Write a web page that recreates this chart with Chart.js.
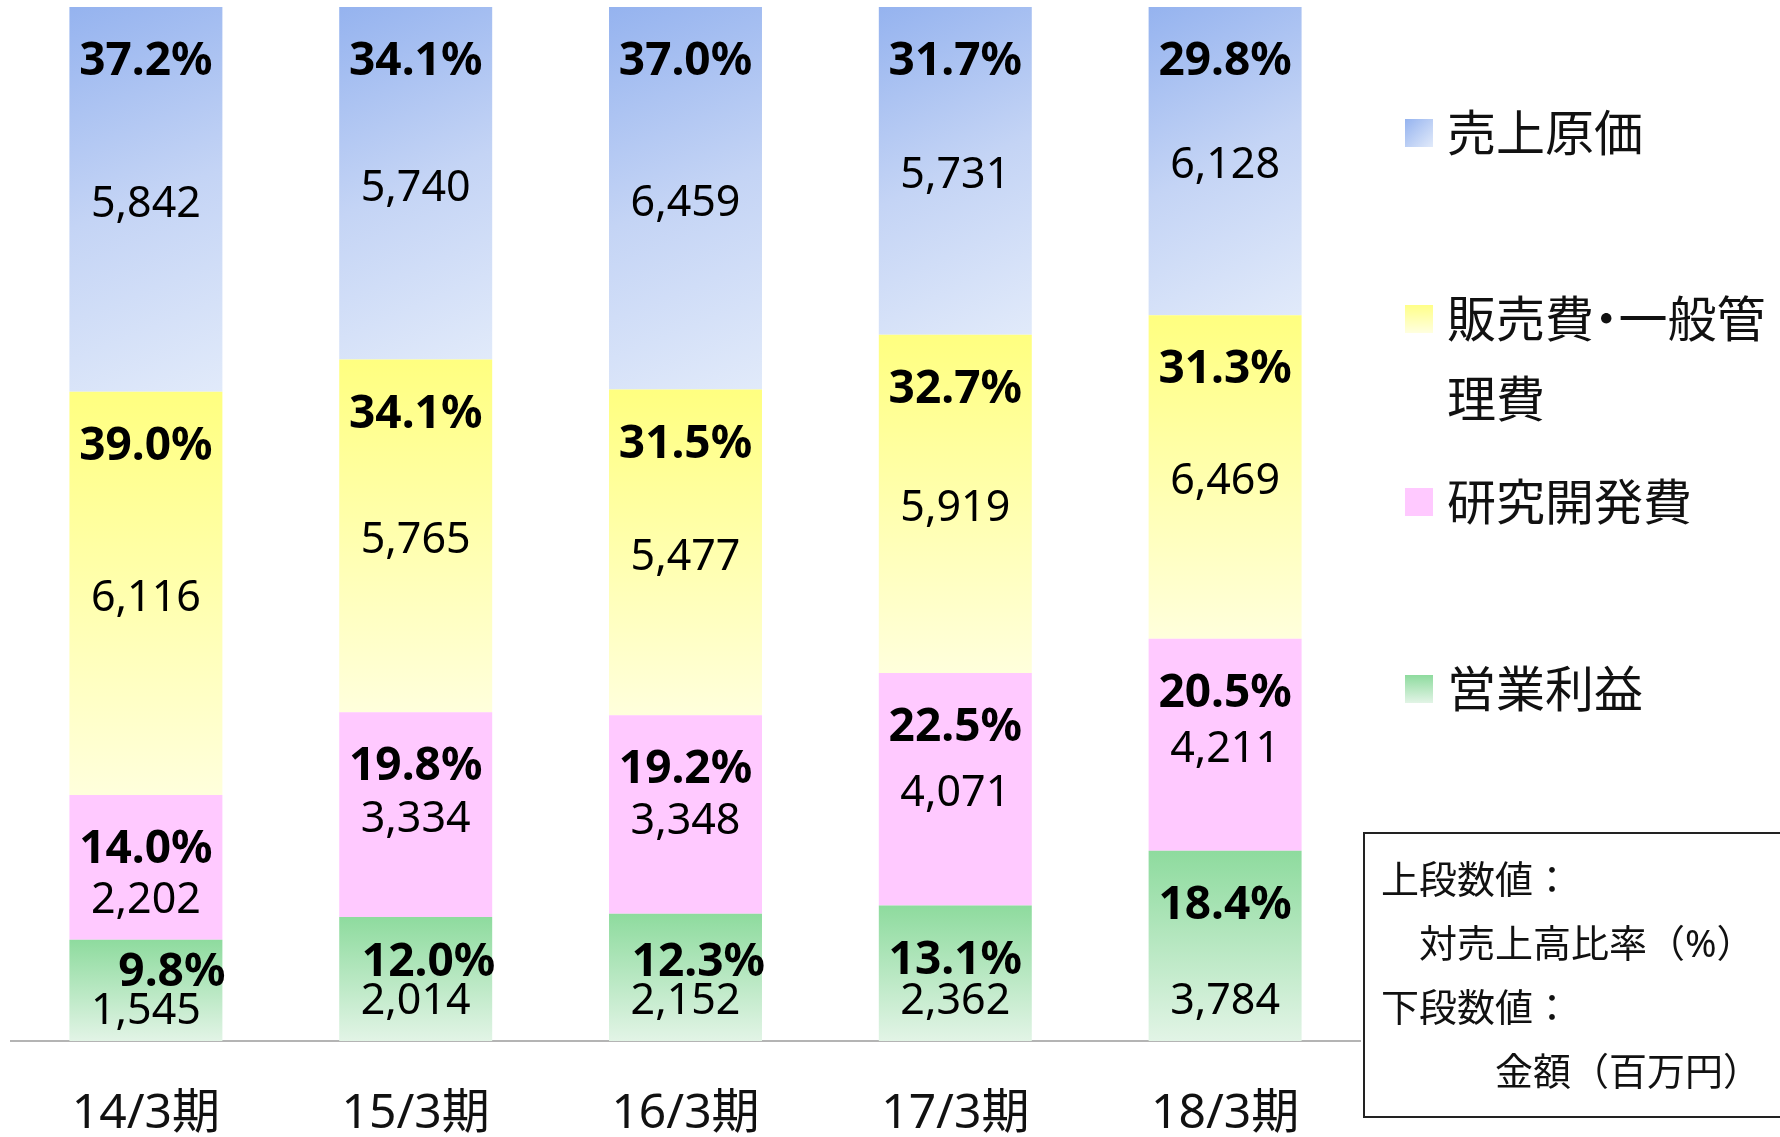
<!DOCTYPE html>
<html>
<head>
<meta charset="utf-8">
<script src="https://cdn.jsdelivr.net/npm/chart.js@4.4.1/dist/chart.umd.min.js"></script>
<style>
  html, body { margin: 0; padding: 0; background: #fff; overflow: hidden; }
  #wrap { position: relative; width: 1780px; height: 1137px; overflow: hidden; }
  #c { position: absolute; left: 0; top: 0; }
  .lg-item { position: absolute; left: 1405px; }
  .lg-sw { position: absolute; left: 0; width: 28px; height: 28px; }
  .lg-tx { position: absolute; left: 42px; width: 345px; font-family: 'Noto Sans CJK JP', sans-serif; font-size: 49px; line-height: 80px; color: #111; white-space: normal; font-feature-settings: "palt"; }
  #note { position: absolute; left: 1363px; top: 832px; width: 520px; height: 286px; border: 2px solid #222;
          font-family: 'Noto Sans', 'Noto Sans CJK JP', sans-serif; font-size: 38px; line-height: 64px; color: #111; padding: 12px 0 0 16px; box-sizing: border-box; white-space: pre; }
</style>
</head>
<body>
<div id="wrap">
  <canvas id="c" width="1780" height="1137"></canvas>
  <div id="legend"></div>
  <div id="note"></div>
</div>
<script>
// ---- data ----
const categories = ['14/3期', '15/3期', '16/3期', '17/3期', '18/3期'];
const seriesNames = ['営業利益', '研究開発費', '販売費・一般管理費', '売上原価'];
const opPct   = [9.8, 12.0, 12.3, 13.1, 18.4];
const opAmt   = [1545, 2014, 2152, 2362, 3784];
const rdPct   = [14.0, 19.8, 19.2, 22.5, 20.5];
const rdAmt   = [2202, 3334, 3348, 4071, 4211];
const sgaPct  = [39.0, 34.1, 31.5, 32.7, 31.3];
const sgaAmt  = [6116, 5765, 5477, 5919, 6469];
const costPct = [37.2, 34.1, 37.0, 31.7, 29.8];
const costAmt = [5842, 5740, 6459, 5731, 6128];
const noteLines = ['上段数値：', '　対売上高比率（%）', '下段数値：', '　　　金額（百万円）'];

// ---- styling ----
const FONT = "'Noto Sans', 'Noto Sans CJK JP', sans-serif";
const BAR_PCT = 0.567;

function segRect(ctx) {
  const chart = ctx.chart;
  const { chartArea, scales } = chart;
  if (!chartArea || ctx.type !== 'data') return null;
  const j = ctx.dataIndex, d = ctx.datasetIndex;
  let base = 0;
  for (let k = 0; k < d; k++) base += chart.data.datasets[k].data[j];
  const top = scales.y.getPixelForValue(base + chart.data.datasets[d].data[j]);
  const bot = scales.y.getPixelForValue(base);
  const xc = scales.x.getPixelForValue(j);
  const w = (scales.x.width / chart.data.labels.length) * BAR_PCT;
  return { x0: xc - w / 2, x1: xc + w / 2, top, bot };
}
function gradFill(stops, diagonal, fallback) {
  return (ctx) => {
    const r = segRect(ctx);
    if (!r) return fallback;
    const g = diagonal
      ? ctx.chart.ctx.createLinearGradient(r.x0, r.top, r.x1, r.bot)
      : ctx.chart.ctx.createLinearGradient(0, r.top, 0, r.bot);
    stops.forEach((c, i) => g.addColorStop(i / (stops.length - 1), c));
    return g;
  };
}

const datasets = [
  { label: seriesNames[0], data: opPct, amounts: opAmt,
    backgroundColor: gradFill(['#8edb9e', '#e2f4e6'], false, '#b8e6c2'),
    swatch: 'linear-gradient(#8edb9e, #e2f4e6)' },
  { label: seriesNames[1], data: rdPct, amounts: rdAmt,
    backgroundColor: '#ffc9ff', swatch: '#ffc9ff' },
  { label: seriesNames[2], data: sgaPct, amounts: sgaAmt,
    backgroundColor: gradFill(['#ffff80', '#ffffdc'], false, '#ffffb0'),
    swatch: 'linear-gradient(#ffff88, #ffffe0)' },
  { label: seriesNames[3], data: costPct, amounts: costAmt,
    backgroundColor: gradFill(['#95b3ef', '#c4d4f5', '#e1eafa'], true, '#c0d0f4'),
    swatch: 'linear-gradient(135deg, #95b3ef, #e1eafa)' }
];
datasets.forEach(ds => { ds.borderWidth = 0; ds.categoryPercentage = 1.0; ds.barPercentage = BAR_PCT; });

const labelPlugin = {
  id: 'segLabels',
  afterDatasetsDraw(chart) {
    const c = chart.ctx;
    c.save();
    c.fillStyle = '#000';
    c.textBaseline = 'middle';
    chart.data.datasets.forEach((ds, d) => {
      const meta = chart.getDatasetMeta(d);
      meta.data.forEach((el, j) => {
        const top = el.y, bot = el.base, xc = el.x, right = el.x + el.width / 2;
        const pctText = ds.data[j].toFixed(1) + '%';
        const amtText = ds.amounts[j].toLocaleString('en-US');
        let pctY, amtY, pctX = xc, align = 'center';
        if (d === 0) {
          amtY = bot - 39;
          pctY = Math.min(top + 55, amtY - 39);
          if (pctY < top + 33) { const s = top + 33 - pctY; pctY += s; amtY += s; }
          if (bot - top < 130) { pctX = right + 3; align = 'right'; }
        } else {
          pctY = top + 55;
          amtY = Math.max((top + bot) / 2 + 5, pctY + 51);
        }
        c.font = 'bold 46px ' + FONT;
        c.textAlign = align;
        c.fillText(pctText, pctX, pctY);
        c.font = '43px ' + FONT;
        c.textAlign = 'center';
        c.fillText(amtText, xc, amtY);
      });
    });
    c.restore();
  }
};

const chart = new Chart(document.getElementById('c'), {
  type: 'bar',
  data: { labels: categories, datasets },
  options: {
    responsive: false,
    animation: false,
    events: [],
    layout: { padding: { left: 11, right: 420, top: 7, bottom: 0 } },
    plugins: { legend: { display: false }, tooltip: { enabled: false } },
    scales: {
      x: {
        stacked: true,
        grid: { display: false, drawTicks: false },
        border: { display: true, color: '#b4b4b4', width: 2 },
        ticks: { color: '#111', padding: 45, font: { family: FONT, size: 48 } },
        afterFit(scale) { scale.height = 96; }
      },
      y: { stacked: true, min: 0, max: 100, display: false }
    }
  },
  plugins: [labelPlugin]
});

// ---- legend (built from chart datasets, top of stack first) ----
const legendCenters = [130, 316, 499, 686];
const lg = document.getElementById('legend');
chart.data.datasets.slice().reverse().forEach((ds, i) => {
  const item = document.createElement('div');
  item.className = 'lg-item';
  item.style.top = (legendCenters[i] - 40) + 'px';
  const sw = document.createElement('div');
  sw.className = 'lg-sw';
  sw.style.top = '29px';
  sw.style.background = ds.swatch;
  const tx = document.createElement('div');
  tx.className = 'lg-tx';
  tx.style.top = '0px';
  tx.textContent = ds.label;
  item.appendChild(sw);
  item.appendChild(tx);
  lg.appendChild(item);
});

document.getElementById('note').textContent = noteLines.join('\n');
</script>
</body>
</html>
